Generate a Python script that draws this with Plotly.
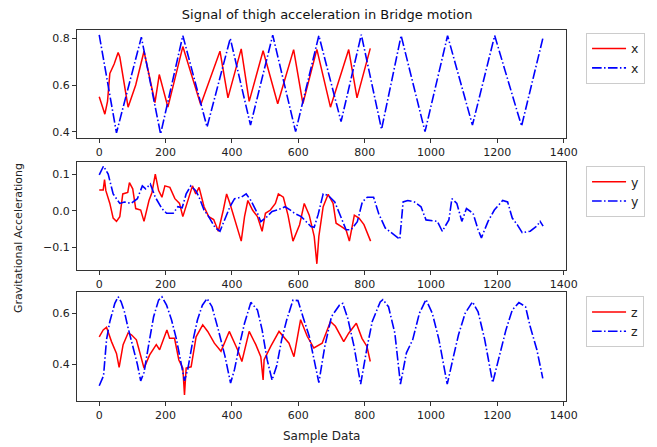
import plotly.graph_objects as go

# sample index / value pairs
red_x_idx = [0, 17, 25, 32, 45, 57, 62, 87, 110, 135, 168, 181, 207, 252, 306, 364, 388, 428,
             452, 494, 538, 586, 614, 656, 697, 752, 777, 817]
red_x_val = [0.55, 0.475, 0.53, 0.65, 0.69, 0.74, 0.72, 0.505, 0.6, 0.745, 0.525, 0.645, 0.505,
             0.765, 0.515, 0.745, 0.545, 0.755, 0.53, 0.747, 0.52, 0.752, 0.52, 0.753, 0.505,
             0.752, 0.545, 0.757]
blue_x_idx = [0, 52, 127, 185, 252, 325, 395, 456, 523, 592, 662, 729, 790, 851, 910, 982, 1050,
              1125, 1192, 1273, 1338]
blue_x_val = [0.815, 0.395, 0.805, 0.39, 0.812, 0.42, 0.80, 0.428, 0.814, 0.40, 0.812, 0.443,
              0.816, 0.41, 0.812, 0.40, 0.812, 0.428, 0.812, 0.424, 0.805]

red_y_idx = [0, 12, 16, 20, 32, 42, 52, 62, 71, 86, 91, 101, 110, 125, 135, 150, 159, 169, 179,
             189, 198, 213, 228, 242, 252, 267, 281, 291, 301, 316, 330, 345, 359, 374, 384, 394,
             408, 428, 438, 448, 462, 477, 491, 501, 516, 531, 540, 555, 569, 584, 604, 618, 633,
             648, 656, 662, 675, 690, 705, 714, 729, 744, 754, 769, 783, 798, 818]
red_y_val = [0.057, 0.057, 0.085, 0.055, 0.02, -0.02, -0.029, -0.016, 0.046, 0.05, 0.077, 0.06,
             0.006, 0.002, -0.029, 0.028, 0.05, 0.10, 0.055, 0.037, 0.068, 0.064, 0.033, 0.02,
             -0.016, 0.028, 0.068, 0.046, 0.064, 0.011, -0.016, -0.024, -0.056, 0.002, 0.046,
             0.02, -0.024, -0.083, -0.016, 0.028, 0.002, -0.016, -0.056, -0.007, 0.002, 0.02,
             0.046, 0.037, -0.012, -0.083, -0.038, 0.02, -0.012, -0.07, -0.145, -0.07, 0.011,
             0.045, 0.02, -0.034, -0.043, -0.052, -0.083, -0.012, -0.02, -0.038, -0.083]
blue_y_idx = [0, 13, 27, 42, 62, 76, 96, 115, 130, 140, 154, 169, 189, 203, 223, 237, 250, 262,
              276, 291, 301, 316, 330, 350, 364, 379, 394, 408, 428, 443, 457, 477, 487, 506,
              521, 540, 560, 574, 589, 609, 623, 638, 648, 660, 675, 690, 710, 729, 744, 759,
              778, 793, 808, 827, 842, 862, 887, 906, 916, 930, 950, 970, 985, 1019, 1034, 1054,
              1063, 1078, 1093, 1107, 1127, 1142, 1152, 1172, 1191, 1216, 1231, 1245, 1260, 1275,
              1299, 1319, 1329, 1338]
blue_y_val = [0.098, 0.122, 0.10, 0.046, 0.02, 0.024, 0.02, 0.033, 0.068, 0.06, 0.073, 0.037,
              0.006, -0.007, -0.007, 0.011, 0.008, 0.046, 0.068, 0.055, 0.037, 0.002, -0.016,
              -0.047, -0.056, -0.024, 0.011, 0.033, 0.037, 0.046, 0.028, -0.007, -0.03, -0.016,
              -0.002, 0.003, 0.011, 0.003, -0.007, -0.016, -0.03, -0.043, -0.045, -0.01, 0.046,
              0.042, 0.024, -0.016, -0.052, -0.052, -0.03, 0.024, 0.037, 0.037, -0.007, -0.047,
              -0.065, -0.078, 0.024, 0.028, 0.024, 0.011, -0.025, -0.029, -0.056, -0.025, 0.033,
              0.02, -0.029, 0.006, -0.007, -0.052, -0.074, -0.029, 0.002, 0.028, 0.024, -0.02,
              -0.038, -0.06, -0.056, -0.042, -0.029, -0.042]

red_z_idx = [0, 12, 22, 37, 52, 60, 72, 87, 97, 112, 127, 135, 152, 172, 182, 204, 212, 227, 240,
             252, 257, 262, 277, 292, 312, 327, 347, 367, 392, 417, 430, 452, 472, 487, 494, 497,
             517, 542, 572, 587, 607, 627, 647, 672, 697, 712, 737, 752, 775, 792, 807, 817]
red_z_val = [0.508, 0.535, 0.545, 0.489, 0.443, 0.388, 0.477, 0.523, 0.516, 0.496, 0.424, 0.385,
             0.437, 0.477, 0.457, 0.535, 0.502, 0.502, 0.417, 0.385, 0.28, 0.385, 0.39, 0.508,
             0.555, 0.529, 0.483, 0.451, 0.529, 0.457, 0.411, 0.529, 0.477, 0.43, 0.339, 0.418,
             0.47, 0.529, 0.483, 0.43, 0.575, 0.51, 0.464, 0.483, 0.568, 0.549, 0.489, 0.522,
             0.561, 0.502, 0.47, 0.411]
blue_z_idx = [0, 13, 22, 32, 47, 57, 66, 76, 86, 101, 115, 125, 135, 150, 164, 179, 189, 203, 218,
              233, 247, 257, 267, 281, 296, 311, 325, 340, 359, 379, 396, 408, 423, 438, 457, 477,
              491, 506, 521, 535, 550, 565, 584, 599, 614, 633, 662, 680, 700, 724, 734, 749, 768,
              788, 808, 823, 847, 855, 872, 891, 908, 926, 945, 965, 985, 1004, 1024, 1049, 1068,
              1083, 1103, 1125, 1142, 1162, 1186, 1206, 1226, 1245, 1265, 1285, 1299, 1319, 1337]
blue_z_val = [0.316, 0.355, 0.497, 0.568, 0.639, 0.665, 0.645, 0.606, 0.548, 0.471, 0.40, 0.335,
              0.368, 0.484, 0.587, 0.652, 0.665, 0.632, 0.574, 0.497, 0.406, 0.335, 0.381, 0.484,
              0.574, 0.632, 0.658, 0.626, 0.535, 0.432, 0.326, 0.381, 0.477, 0.561, 0.643, 0.613,
              0.535, 0.419, 0.338, 0.394, 0.497, 0.574, 0.652, 0.65, 0.587, 0.51, 0.328, 0.471,
              0.587, 0.632, 0.639, 0.581, 0.471, 0.322, 0.471, 0.568, 0.645, 0.654, 0.626, 0.523,
              0.322, 0.445, 0.497, 0.6, 0.654, 0.6, 0.497, 0.322, 0.432, 0.516, 0.6, 0.645, 0.606,
              0.497, 0.328, 0.432, 0.535, 0.613, 0.642, 0.626, 0.548, 0.458, 0.345]

FONT = "DejaVu Sans"
DASHDOT = "9.6px,2.4px,1.5px,2.4px"

panels = [
    ("x", red_x_idx, red_x_val, blue_x_idx, blue_x_val, [0.373, 0.836], 0.2, [0.709, 1.0], 0.992),
    ("y", red_y_idx, red_y_val, blue_y_idx, blue_y_val, [-0.162, 0.133], 0.1, [0.353, 0.644], 0.633),
    ("z", red_z_idx, red_z_val, blue_z_idx, blue_z_val, [0.256, 0.684], 0.2, [0.0, 0.294], 0.282),
]

fig = go.Figure()
layout = {}
for i, (name, rx, rv, bx, bv, yr, dt, dom, ly) in enumerate(panels):
    n = "" if i == 0 else str(i + 1)
    leg = "legend" + n
    fig.add_trace(go.Scatter(x=rx, y=rv, mode="lines", name=name, legend=leg,
                             xaxis="x" + n, yaxis="y" + n,
                             line=dict(color="#ff0000", width=1.5)))
    fig.add_trace(go.Scatter(x=bx, y=bv, mode="lines", name=name, legend=leg,
                             xaxis="x" + n, yaxis="y" + n,
                             line=dict(color="#0000ff", width=1.6, dash=DASHDOT)))
    axis_common = dict(showline=True, mirror=True, linecolor="#333", linewidth=1,
                       showgrid=False, zeroline=False, ticks="outside", ticklen=4,
                       tickcolor="#333", tickfont=dict(family=FONT, size=11, color="#222"))
    layout["xaxis" + n] = dict(axis_common, range=[-67, 1407], dtick=200, tick0=0,
                               anchor="y" + n, domain=[0, 1])
    layout["yaxis" + n] = dict(axis_common, range=yr, dtick=dt, tick0=0, tickformat=".1f",
                               anchor="x" + n, domain=dom)
    layout[leg] = dict(x=1.041, y=ly, xanchor="left", yanchor="top",
                       bordercolor="#cccccc", borderwidth=1, bgcolor="white",
                       font=dict(family=FONT, size=12.5, color="#222"),
                       tracegroupgap=0, itemwidth=34)

# the page body adds an 8px offset, so the figure is drawn 8px smaller
fig.update_layout(**layout)
fig.update_layout(
    width=649, height=439,
    margin=dict(l=69, r=88, t=22, b=46),
    paper_bgcolor="white", plot_bgcolor="white",
    showlegend=True,
    font=dict(family=FONT, color="#222"),
    title=dict(text="Signal of thigh acceleration in Bridge motion", x=0.4917, xanchor="center",
               y=0.986, yanchor="middle", font=dict(family=FONT, size=13, color="#111")),
    annotations=[
        dict(text="Sample Data", xref="paper", yref="paper", x=0.5, y=-0.094,
             xanchor="center", yanchor="middle", showarrow=False,
             font=dict(family=FONT, size=12, color="#222")),
        dict(text="Gravitational Accelerationg", xref="paper", yref="paper", x=-0.12, y=0.44,
             xanchor="center", yanchor="middle", textangle=-90, showarrow=False,
             font=dict(family=FONT, size=11, color="#222")),
    ],
)

fig.write_html("out.html")
